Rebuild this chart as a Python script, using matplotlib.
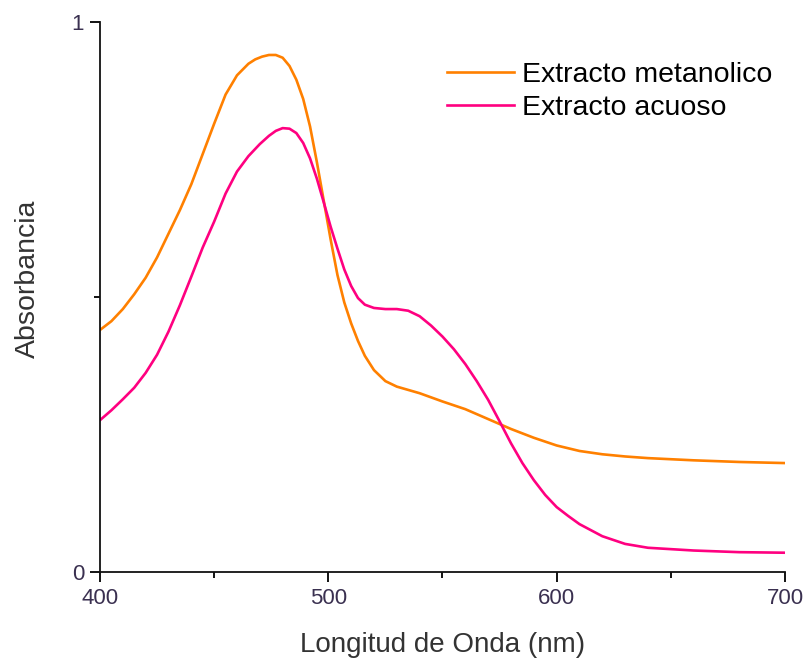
import matplotlib
matplotlib.use("Agg")
import matplotlib.pyplot as plt
from matplotlib.ticker import MultipleLocator

plt.rcParams["font.family"] = ["Liberation Sans", "DejaVu Sans"]

# wavelengths (nm) and absorbance
wl_met = [400, 405, 410, 415, 420, 425, 430, 435, 440, 445, 450, 455, 460, 465,
          468, 471, 474, 477, 480, 483, 486, 489, 492, 495, 498, 501, 504, 507,
          510, 513, 516, 520, 525, 530, 540, 550, 560, 570, 580, 590, 600, 610,
          620, 630, 640, 660, 680, 700]
abs_met = [0.44, 0.456, 0.478, 0.505, 0.535, 0.572, 0.615, 0.658, 0.705, 0.76,
           0.815, 0.868, 0.903, 0.924, 0.932, 0.937, 0.94, 0.94, 0.935, 0.92,
           0.895, 0.86, 0.81, 0.745, 0.675, 0.605, 0.54, 0.49, 0.452, 0.42,
           0.393, 0.367, 0.347, 0.337, 0.325, 0.31, 0.296, 0.278, 0.26, 0.244,
           0.23, 0.22, 0.214, 0.21, 0.207, 0.203, 0.20, 0.198]

wl_acu = [400, 405, 410, 415, 420, 425, 430, 435, 440, 445, 450, 455, 460, 465,
          470, 474, 477, 480, 483, 486, 489, 492, 495, 498, 501, 504, 507, 510,
          513, 516, 520, 525, 530, 535, 540, 545, 550, 555, 560, 565, 570, 575,
          580, 585, 590, 595, 600, 605, 610, 620, 630, 640, 660, 680, 700]
abs_acu = [0.276, 0.294, 0.314, 0.335, 0.362, 0.395, 0.437, 0.485, 0.537, 0.59,
           0.637, 0.688, 0.728, 0.756, 0.778, 0.793, 0.802, 0.807, 0.806, 0.798,
           0.78, 0.752, 0.715, 0.672, 0.628, 0.588, 0.55, 0.52, 0.498, 0.486,
           0.48, 0.478, 0.478, 0.475, 0.465, 0.448, 0.428, 0.405, 0.378, 0.347,
           0.313, 0.274, 0.234, 0.198, 0.167, 0.14, 0.118, 0.102, 0.087, 0.065,
           0.051, 0.044, 0.039, 0.036, 0.035]

fig = plt.figure(figsize=(8.07, 6.62), dpi=100)
ax = fig.add_axes([0.1239, 0.136, 0.8488, 0.8308])

ax.plot(wl_met, abs_met, color="#FF8000", lw=1.9, label="Extracto metanolico")
ax.plot(wl_acu, abs_acu, color="#FF0080", lw=1.9, label="Extracto acuoso")

ax.set_xlim(400, 700)
ax.set_ylim(0, 1)
ax.set_xticks([400, 500, 600, 700])
ax.set_yticks([0, 1])
ax.xaxis.set_minor_locator(MultipleLocator(50))
ax.yaxis.set_minor_locator(MultipleLocator(0.5))

for s in ["top", "right"]:
    ax.spines[s].set_visible(False)
for s in ["left", "bottom"]:
    ax.spines[s].set_linewidth(1.3)
    ax.spines[s].set_color("#111111")

ax.tick_params(which="major", direction="out", length=7.5, width=1.3,
               labelsize=16, labelcolor="#3a3050", pad=4)
ax.tick_params(which="minor", direction="out", length=4, width=1.3)

ax.set_xlabel("Longitud de Onda (nm)", fontsize=20, color="#333333")
ax.set_ylabel("Absorbancia", fontsize=20.5, color="#333333")
ax.xaxis.set_label_coords(0.5, -0.11)
ax.yaxis.set_label_coords(-0.086, 0.533)

ax.legend(loc="upper left", bbox_to_anchor=(0.5066, 0.927), frameon=False,
          fontsize=20.5, borderpad=0, handlelength=2.35, handletextpad=0.3,
          labelspacing=0.25, borderaxespad=0)

fig.savefig("out.png", dpi=100)
